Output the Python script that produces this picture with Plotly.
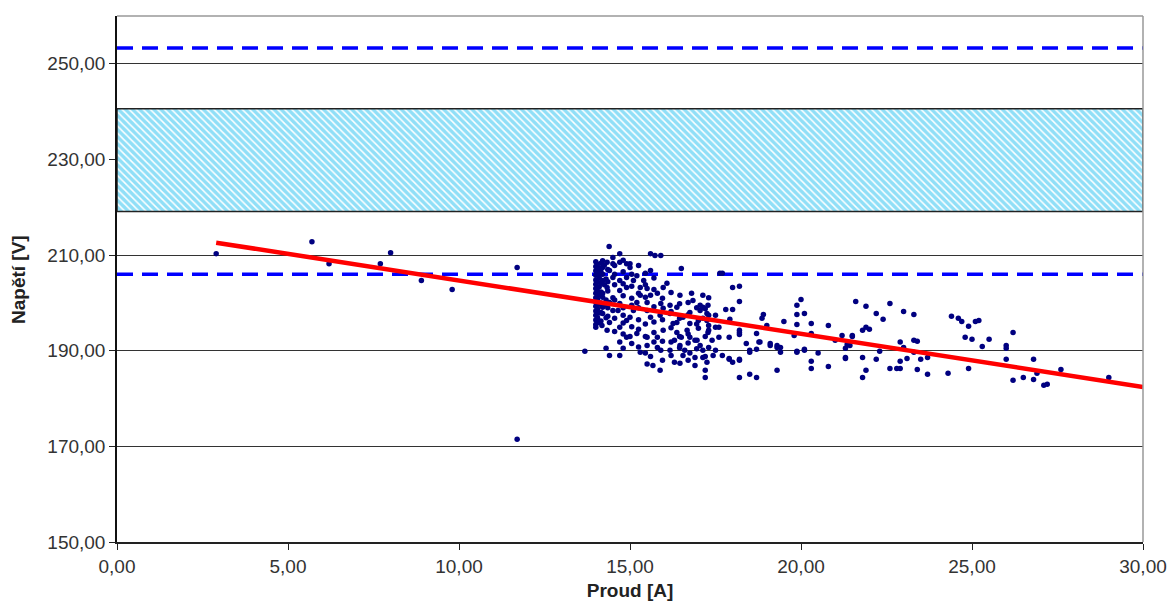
import plotly.graph_objects as go

# ---- data ----
x_range = [0, 30]
y_range = [150, 260]
y_ticks = [150, 170, 190, 210, 230, 250]
x_ticks = [0, 5, 10, 15, 20, 25, 30]

band_low = 219.1
band_high = 240.6
upper_limit = 253.3
lower_limit = 206.0

trend_x = [2.9, 30.0]
trend_y = [212.6, 182.4]

isolated_x = [2.9, 5.7, 6.2, 7.7, 8.0, 8.9, 9.8, 11.7, 11.7, 13.68]
isolated_y = [210.3, 212.8, 208.2, 208.2, 210.5, 204.7, 202.8, 207.4, 171.5, 189.9]

strip_x = [14.0, 14.05, 14.0, 14.1, 14.0, 14.05, 14.0, 14.1, 14.0, 14.05, 14.0, 14.1, 14.0, 14.05,
           14.0, 14.1, 14.0, 14.05, 14.0, 14.1, 14.0, 14.05, 14.0, 14.1, 14.0, 14.05, 14.0, 14.05,
           14.0, 14.1, 14.2, 14.25, 14.2, 14.3, 14.25, 14.2, 14.3, 14.25, 14.2, 14.3,
           14.15, 14.15, 14.15, 14.15, 14.15, 14.15, 14.15]
strip_y = [208.6, 208.1, 207.6, 207.2, 206.7, 206.2, 205.8, 205.3, 204.8, 204.4, 203.9, 203.4, 203.0, 202.5,
           202.0, 201.6, 201.1, 200.7, 200.2, 199.7, 199.3, 198.8, 198.3, 197.9, 197.4, 196.9, 196.4, 196.0,
           195.5, 195.9, 208.8, 207.9, 206.0, 205.0, 203.8, 201.2, 200.6, 199.6, 197.8, 196.9,
           208.3, 206.5, 204.1, 202.3, 200.0, 198.0, 196.2]

cluster_x = [14.39, 14.7, 14.5, 15.6, 15.73, 15.9, 16.5, 17.63, 17.7, 15.0, 16.08, 15.97, 16.46, 16.8, 17.13,
             18.0, 18.2, 18.2, 17.8, 18.0, 17.6, 17.92, 18.2, 18.2, 18.4, 18.5, 18.7, 18.86, 18.9, 18.77,
             19.0, 19.1, 19.3, 19.4, 19.3, 19.5, 19.88, 20.0, 19.88, 20.1, 19.88, 19.88, 20.1, 20.3, 20.3,
             20.3, 20.3, 20.5, 20.8, 21.0, 21.3, 21.35, 21.6, 21.5, 18.2, 18.5, 18.7, 18.2, 17.7, 17.9,
             17.2, 17.2, 16.9, 17.25, 15.88, 15.67, 15.5, 16.3, 15.6, 15.9, 16.17, 15.3, 14.7, 14.4, 14.3,
             14.8, 14.0, 14.18, 14.33, 14.4, 14.7, 14.7, 14.9, 15.0, 15.2, 15.5, 15.5, 15.8, 15.8, 15.97,
             16.26, 16.37, 16.3, 16.46, 16.6, 16.75, 16.96, 17.05, 17.13, 17.3, 17.28, 17.0, 16.75, 16.67,
             17.0, 17.25, 17.05, 16.84, 16.7, 16.37, 16.17, 15.97, 16.17, 15.88, 15.6, 15.5, 15.5, 15.6,
             15.5, 15.3, 15.3, 15.2, 15.1, 15.0, 14.9, 14.8, 14.65, 14.5, 14.7, 14.5, 14.7, 14.9, 14.9,
             14.7, 14.5, 14.4, 14.2, 14.33, 14.5, 14.1, 14.2, 14.33, 14.2, 14.4, 14.2, 15.1, 15.2, 15.4,
             15.6, 15.8, 14.9, 15.0, 14.7, 15.9, 17.05, 17.25, 17.3, 17.5, 17.5, 17.4, 16.9, 16.75, 16.5,
             16.37, 16.55, 16.75, 16.9, 16.55, 16.46, 17.13, 17.43,
             17.3, 17.28, 17.13, 17.13, 17.3, 17.3, 17.6, 17.9, 18.2, 17.5, 17.9, 18.0, 18.2, 18.5, 18.7,
             18.8, 19.1, 19.3, 19.4, 19.8, 19.88, 20.1, 20.8, 21.2, 21.3, 21.5, 21.3,
             14.35, 14.35, 14.35, 14.35, 14.35,
             14.55, 14.55, 14.55, 14.55, 14.55, 14.55,
             14.8, 14.8, 14.8, 14.8, 14.8, 14.8, 14.8,
             15.05, 15.05, 15.05, 15.05, 15.05, 15.05,
             15.25, 15.25, 15.25, 15.25, 15.25, 15.25,
             15.45, 15.45, 15.45, 15.45, 15.45, 15.45,
             15.7, 15.7, 15.7, 15.7, 15.7, 15.7,
             15.95, 15.95, 15.95, 15.95,
             16.2, 16.2, 16.2, 16.2, 16.2,
             16.45, 16.45, 16.45, 16.45,
             16.7, 16.7, 16.7, 16.7,
             16.95, 16.95, 16.95,
             17.2, 17.2, 17.2]
cluster_y = [211.8, 210.3, 209.5, 210.3, 209.9, 209.9, 207.2, 206.2, 206.2, 208.2, 204.1, 203.2, 201.6, 202.0,
             201.6, 203.2, 203.5, 200.3, 198.6, 198.6, 194.9, 196.6, 194.3, 193.4, 191.5, 190.1, 190.3,
             196.8, 197.6, 191.8, 195.3, 191.5, 190.7, 190.7, 185.9, 196.1, 199.5, 200.7, 197.6, 197.8,
             195.5, 189.9, 190.3, 195.7, 193.6, 187.8, 186.3, 189.5, 186.7, 192.2, 188.6, 191.3, 200.3,
             193.0, 184.4, 185.1, 184.4, 188.0, 189.0, 188.4, 184.4, 185.9, 186.9, 187.6, 185.9, 186.9,
             187.2, 187.6, 188.8, 190.1, 190.1, 189.7, 189.0, 189.0, 190.5, 190.5, 194.9, 195.3, 194.3,
             195.9, 194.9, 191.8, 192.8, 193.0, 193.6, 192.8, 191.1, 190.7, 192.8, 194.3, 195.7, 193.8,
             192.2, 191.1, 190.1, 189.5, 192.2, 191.1, 190.1, 190.7, 193.8, 194.7, 195.7, 194.3, 196.3,
             197.8, 199.5, 200.5, 200.1, 199.1, 199.5, 198.9, 197.8, 197.4, 197.0, 198.4, 200.1, 201.6,
             203.0, 203.2, 201.6, 200.1, 198.4, 197.0, 196.3, 197.4, 198.4, 198.4, 199.9, 201.1, 202.6,
             203.2, 205.3, 204.7, 205.3, 206.8, 207.4, 208.5, 208.2, 206.4, 204.7, 203.2, 202.0, 200.1,
             199.1, 204.7, 205.7, 204.7, 206.8, 202.0, 208.2, 207.4, 208.5, 199.9, 198.4, 196.3, 195.3,
             197.4, 194.9, 192.2, 192.2, 192.8, 192.8, 195.9, 197.0, 198.0, 188.6, 189.0, 187.4, 188.6,
             189.0,
             201.1, 199.5, 199.1, 196.8, 197.4, 194.3, 192.8, 192.8, 193.8, 190.1, 188.2, 187.6, 188.2,
             189.7, 193.6, 191.8, 191.1, 191.1, 189.7, 193.2, 189.7, 190.1, 195.3, 193.2, 190.5, 193.2, 188.4,
             207.0, 204.4, 202.5, 199.0, 197.2,
             207.8, 206.0, 203.8, 200.6, 196.8, 194.0,
             208.9, 206.5, 204.0, 201.5, 199.0, 195.8, 193.5,
             206.0, 203.5, 201.0, 199.5, 195.0, 191.5,
             207.8, 202.0, 199.0, 196.5, 194.5, 190.8,
             206.2, 203.8, 201.2, 195.6, 193.0, 189.5,
             205.2, 202.8, 199.2, 196.0, 193.8, 191.8,
             201.0, 196.5, 192.0, 188.0,
             202.2, 198.2, 194.8, 191.8, 189.0,
             199.8, 196.8, 193.0, 190.6,
             197.5, 193.5, 191.6, 188.0,
             199.0, 195.6, 190.4,
             198.8, 193.0, 188.8]

right_x = [21.9, 22.6, 22.2, 22.4, 23.0, 23.3, 21.43, 21.8, 21.9, 22.0, 21.8, 22.2, 21.9, 21.8, 22.3,
           22.6, 22.8, 22.9, 22.9, 23.0, 23.1, 22.9, 23.3, 23.4, 23.3, 23.5, 23.4, 23.7, 23.7, 24.3,
           24.4, 24.6, 24.7, 24.9, 24.8, 25.0, 25.1, 25.2, 24.9, 25.3, 25.5, 26.0, 26.0, 26.2, 26.0,
           26.2, 26.5, 26.8, 26.8, 26.9, 27.1, 27.2, 27.6, 29.0]
right_y = [199.3, 199.9, 197.8, 196.6, 198.2, 197.6, 191.1, 194.3, 194.9, 194.5, 188.6, 188.2, 185.9, 184.4,
           189.9, 186.3, 186.3, 186.3, 191.8, 190.7, 188.4, 187.8, 192.2, 192.0, 189.7, 188.2, 186.1, 188.6,
           185.1, 185.3, 197.2, 196.8, 196.1, 195.1, 192.8, 192.4, 196.1, 196.3, 186.3, 190.9, 192.4, 191.1,
           190.5, 193.8, 188.2, 183.8, 184.4, 188.2, 184.0, 185.3, 182.8, 183.0, 186.1, 184.4]

proud = isolated_x + strip_x + cluster_x + right_x
napeti = isolated_y + strip_y + cluster_y + right_y

# ---- figure ----
fig = go.Figure()

# hatched band
fig.add_trace(go.Scatter(
    x=[x_range[0], x_range[1], x_range[1], x_range[0], x_range[0]],
    y=[band_low, band_low, band_high, band_high, band_low],
    mode="lines", fill="toself",
    fillcolor="rgba(0,0,0,0)",
    fillpattern=dict(shape="\\", fgcolor="#22C0F0", bgcolor="white", size=5, solidity=0.7),
    line=dict(color="#222222", width=1.5),
    hoverinfo="skip", showlegend=False))

for lvl in [upper_limit, lower_limit]:
    fig.add_trace(go.Scatter(
        x=x_range, y=[lvl, lvl], mode="lines",
        line=dict(color="#0000FF", width=3.5, dash="16px,9px"),
        showlegend=False, hoverinfo="skip"))

fig.add_trace(go.Scatter(
    x=proud, y=napeti, mode="markers",
    marker=dict(color="#000080", size=5.5),
    showlegend=False))

fig.add_trace(go.Scatter(
    x=trend_x, y=trend_y, mode="lines",
    line=dict(color="#FF0000", width=4.5),
    showlegend=False, hoverinfo="skip"))

font_family = "Liberation Sans, Arial, sans-serif"

fig.update_layout(
    width=1170, height=613,
    margin=dict(l=117, r=27, t=16, b=71),
    paper_bgcolor="white", plot_bgcolor="white",
    separators=", ",
    font=dict(family=font_family, size=19, color="#222222"),
    xaxis=dict(range=x_range, tickvals=x_ticks, tickformat=".2f",
               showgrid=False, zeroline=False, automargin=False,
               showline=True, linecolor="#222222", linewidth=1.5,
               ticks="outside", ticklen=6, tickcolor="#222222",
               tickfont=dict(size=19, color="#333333"),
               title=dict(text="<b>Proud [A]</b>", font=dict(size=19, color="#222222"), standoff=8)),
    yaxis=dict(range=y_range, tickvals=y_ticks, tickformat=".2f", automargin=False,
               showgrid=True, gridcolor="#333333", gridwidth=1, zeroline=False,
               showline=True, linecolor="#111111", linewidth=1.5,
               ticks="outside", ticklen=6, tickcolor="#222222",
               tickfont=dict(size=19, color="#333333")),
    shapes=[
        dict(type="line", xref="paper", yref="paper", x0=0, x1=1, y0=1, y1=1,
             line=dict(color="#999999", width=1.5)),
        dict(type="line", xref="paper", yref="paper", x0=1, x1=1, y0=0, y1=1,
             line=dict(color="#999999", width=1.5)),
    ],
    annotations=[dict(text="<b>Napětí [V]</b>", xref="paper", yref="paper",
                      x=-0.0965, y=0.5, textangle=-90, showarrow=False,
                      font=dict(size=19, color="#222222"), xanchor="center", yanchor="middle")],
)

fig.write_html("out.html", config={"displayModeBar": False},
               post_script="document.body.style.margin='0';document.body.style.overflow='hidden';")
